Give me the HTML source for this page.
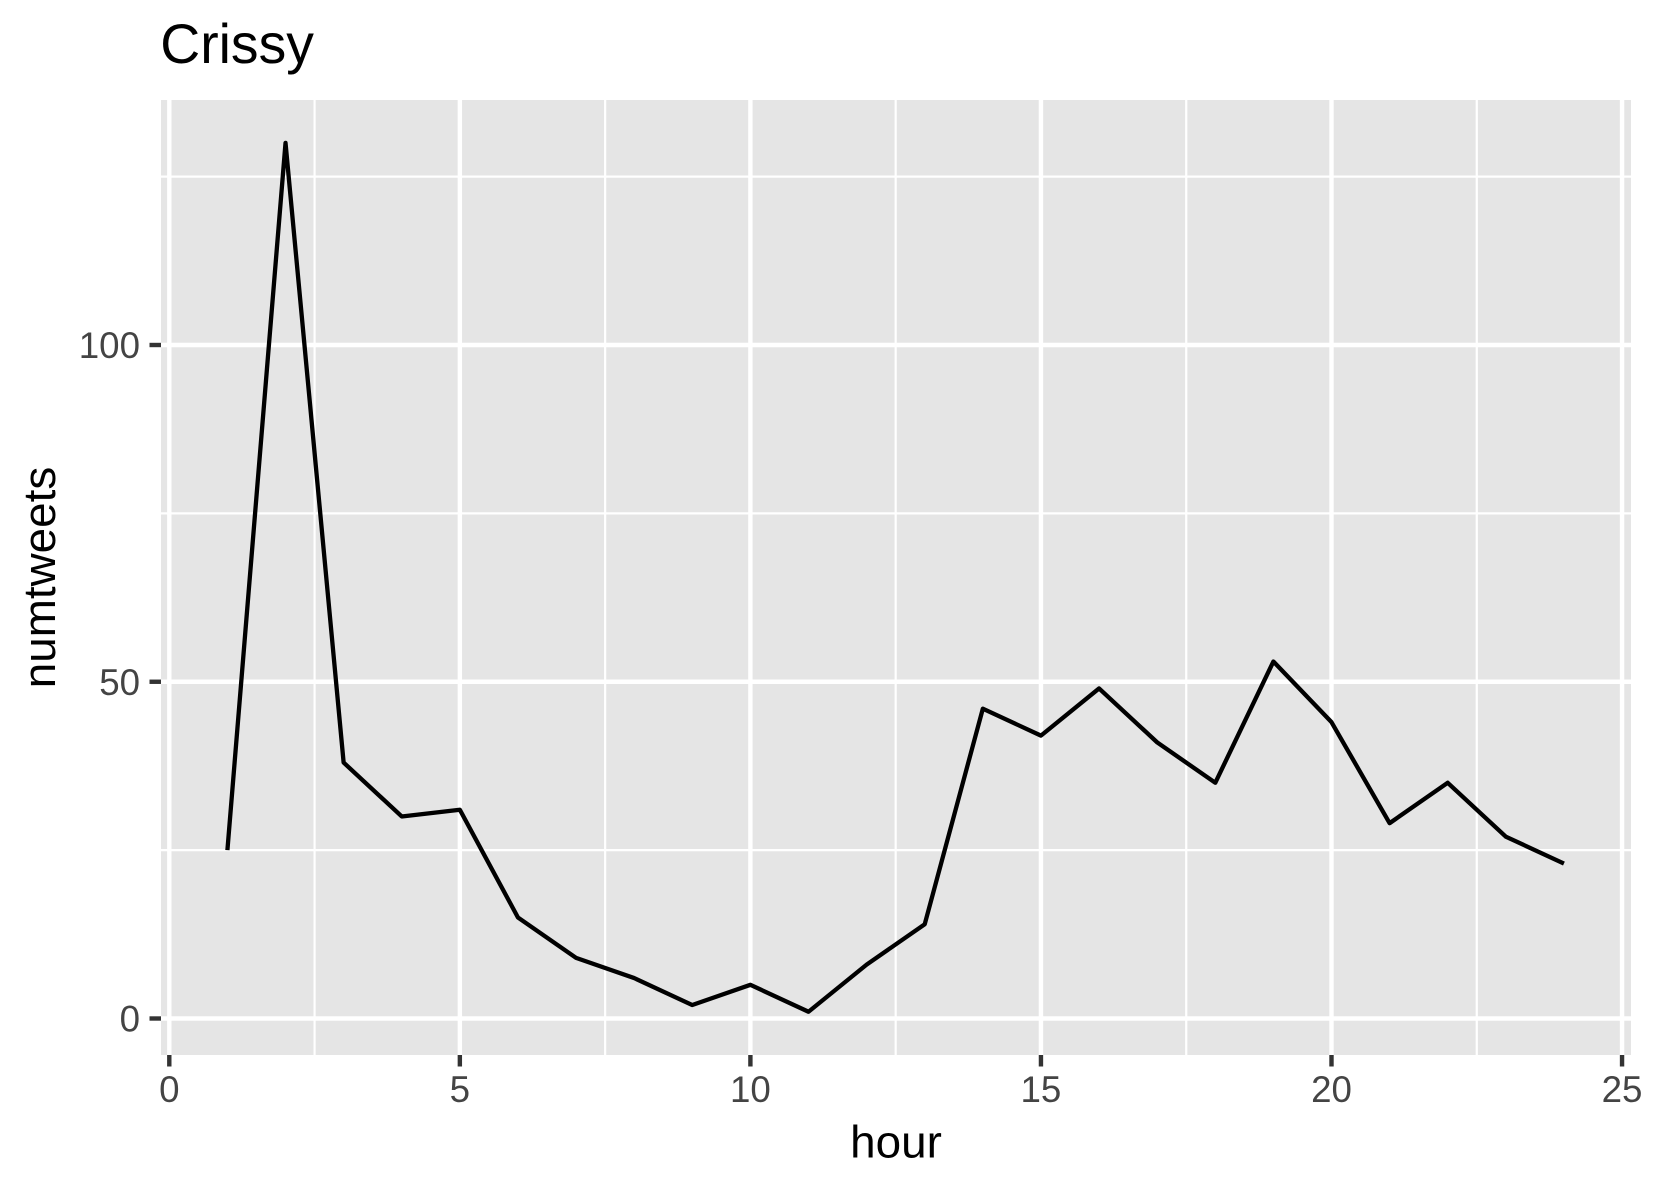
<!DOCTYPE html>
<html lang="en">
<head>
<meta charset="utf-8">
<title>Crissy</title>
<style>
html,body{margin:0;padding:0;background:#fff;}
svg{display:block;font-family:"Liberation Sans",Arial,sans-serif;}
</style>
</head>
<body>
<svg id="chart" xmlns="http://www.w3.org/2000/svg" width="1653" height="1181" viewBox="0 0 1653 1181">
  <rect x="0" y="0" width="1653" height="1181" fill="#fff"/>
  <rect x="161" y="100" width="1470" height="955" fill="#e5e5e5"/>
  <g id="grid"></g>
  <g id="series"></g>
  <g id="x-axis"></g>
  <g id="y-axis"></g>
  <text x="160.3" y="63" font-size="55.3" fill="#000">Crissy</text>
  <text x="896" y="1157.5" font-size="45.8" fill="#000" text-anchor="middle">hour</text>
  <text transform="translate(55,577.5) rotate(-90)" font-size="45.8" fill="#000" text-anchor="middle">numtweets</text>
</svg>
<script>
const hours = [1,2,3,4,5,6,7,8,9,10,11,12,13,14,15,16,17,18,19,20,21,22,23,24];
const numtweets = [25,130,38,30,31,15,9,6,2,5,1,8,14,46,42,49,41,35,53,44,29,35,27,23];
const xMajorTicks = [0,5,10,15,20,25];
const xMinorTicks = [2.5,7.5,12.5,17.5,22.5];
const yMajorTicks = [0,50,100];
const yMinorTicks = [25,75,125];

const NS = 'http://www.w3.org/2000/svg';
const panel = {left:161, right:1631, top:100, bottom:1055};
function xScale(v){ return 169.3 + v * 58.11; }
function yScale(v){ return 1018.5 - v * 6.735; }

function make(parent, tag, attrs){
  const el = document.createElementNS(NS, tag);
  for (const k in attrs) el.setAttribute(k, attrs[k]);
  parent.appendChild(el);
  return el;
}

const grid = document.getElementById('grid');
yMinorTicks.forEach(function(v){
  const l = make(grid, 'line', {x1:panel.left, x2:panel.right, y1:yScale(v), y2:yScale(v), stroke:'#fff', 'stroke-width':2.2});
  
  
});
xMinorTicks.forEach(function(v){
  const l = make(grid, 'line', {x1:xScale(v), x2:xScale(v), y1:panel.top, y2:panel.bottom, stroke:'#fff', 'stroke-width':2.2});
  
  
});
yMajorTicks.forEach(function(v){
  const l = make(grid, 'line', {x1:panel.left, x2:panel.right, y1:yScale(v), y2:yScale(v), stroke:'#fff', 'stroke-width':4.4});
  
  
});
xMajorTicks.forEach(function(v){
  const l = make(grid, 'line', {x1:xScale(v), x2:xScale(v), y1:panel.top, y2:panel.bottom, stroke:'#fff', 'stroke-width':4.4});
  
  
});

const series = document.getElementById('series');
const pts = hours.map(function(h,i){ return xScale(h).toFixed(2) + ',' + yScale(numtweets[i]).toFixed(2); }).join(' ');
const line = make(series, 'polyline', {points:pts, fill:'none', stroke:'#000', 'stroke-width':4.3, 'stroke-linejoin':'round', 'stroke-linecap':'butt'});



const xAxis = document.getElementById('x-axis');
xMajorTicks.forEach(function(v){
  const t = make(xAxis, 'line', {x1:xScale(v), x2:xScale(v), y1:panel.bottom, y2:panel.bottom + 11.5, stroke:'#333', 'stroke-width':4.4});
  
  
  const lab = make(xAxis, 'text', {x:xScale(v), y:1102, 'font-size':36.7, fill:'#444', 'text-anchor':'middle'});
  lab.textContent = String(v);
  
  
});

const yAxis = document.getElementById('y-axis');
yMajorTicks.forEach(function(v){
  const t = make(yAxis, 'line', {x1:panel.left - 11.5, x2:panel.left, y1:yScale(v), y2:yScale(v), stroke:'#333', 'stroke-width':4.4});
  
  
  const lab = make(yAxis, 'text', {x:140, y:yScale(v) + 13, 'font-size':36.7, fill:'#444', 'text-anchor':'end'});
  lab.textContent = String(v);
  
  
});
</script>
</body>
</html>
